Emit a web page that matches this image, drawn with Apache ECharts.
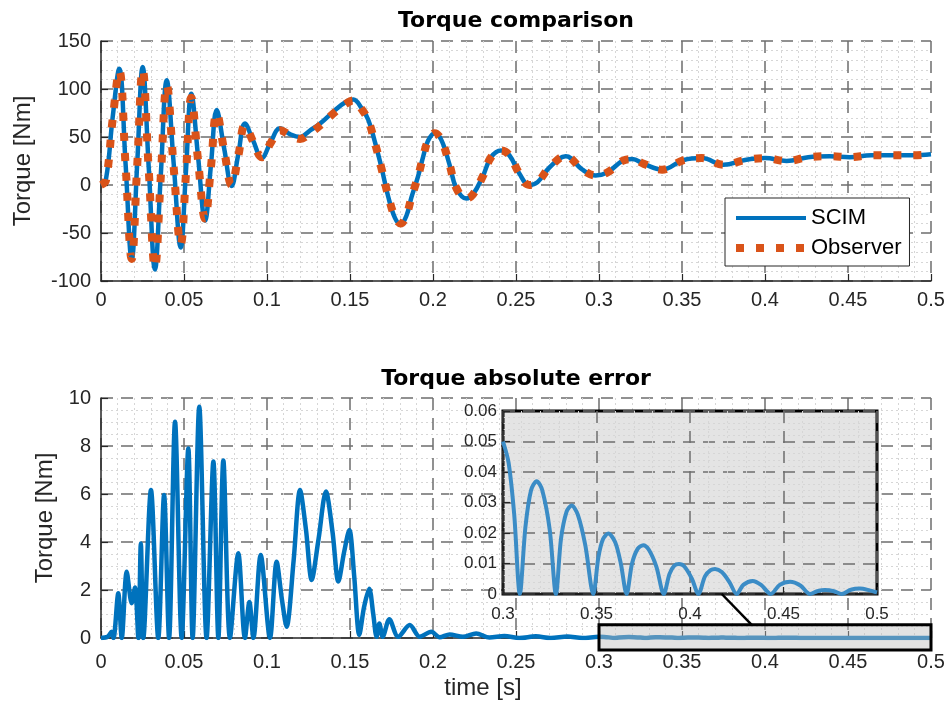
<!DOCTYPE html>
<html><head><meta charset="utf-8">
<script src="https://cdn.jsdelivr.net/npm/echarts@6/dist/echarts.min.js"></script>
<style>html,body{margin:0;padding:0;background:#fff}#c{width:949px;height:715px}</style>
</head><body><div id="c"></div>
<script>
// ---------- data ----------
const titleTop = 'Torque comparison';
const titleBottom = 'Torque absolute error';
const yLabel = 'Torque [Nm]';
const xLabel = 'time [s]';
const legendNames = ['SCIM', 'Observer'];

// SCIM torque [time s, torque Nm]
const scimTorque = [
  [0,0],[0.003,6],[0.007,70],[0.011,121],[0.0148,22],[0.0185,-78],[0.0218,22],[0.0251,123],
  [0.0288,17],[0.0325,-88],[0.036,10],[0.0396,109],[0.0438,22],[0.048,-65],[0.0512,15],[0.0544,95],
  [0.0585,29],[0.0627,-37],[0.0662,20],[0.0697,78],[0.0742,38],[0.0787,-1],[0.0827,32],[0.0867,64],
  [0.0917,46],[0.0968,28],[0.1023,45],[0.1078,59],[0.1138,53],[0.1199,50],[0.126,57],[0.132,64],
  [0.141,78],[0.147,86],[0.152,89],[0.157,80],[0.161,68],[0.165,45],[0.169,18],[0.173,-12],
  [0.177,-34],[0.1805,-41],[0.184,-32],[0.187,-13],[0.191,9],[0.194,29],[0.197,46],[0.201,54],
  [0.205,47],[0.21,21],[0.214,-3],[0.22,-14],[0.224,-10],[0.23,9],[0.235,29],[0.241,36],
  [0.246,31],[0.252,12],[0.258,0],[0.263,3],[0.27,18],[0.28,30],[0.29,16],[0.298,10],
  [0.305,13],[0.314,25],[0.32,27],[0.327,22],[0.338,16],[0.351,26],[0.362,28],[0.375,21],
  [0.388,26],[0.4,28],[0.413,25],[0.426,29],[0.439,30],[0.451,29],[0.464,31],[0.477,31],
  [0.489,31],[0.5,32]
];

// Observer torque [time s, torque Nm]
const observerTorque = [
  [0,0],[0.003,5],[0.007,68],[0.011,119],[0.0148,21],[0.0185,-77],[0.0218,20],[0.0251,120],
  [0.0288,14],[0.0325,-86],[0.036,8],[0.0396,104],[0.0438,18],[0.048,-62],[0.0512,12],[0.0544,91],
  [0.0585,25],[0.0627,-35],[0.0662,18],[0.0697,75],[0.0742,36],[0.0787,0],[0.0827,30],[0.0867,62],
  [0.0917,45],[0.0968,29],[0.1023,44],[0.1078,57],[0.1138,52],[0.1199,48],[0.126,54],[0.132,62],
  [0.141,76],[0.147,84],[0.152,88],[0.157,79],[0.161,67],[0.165,44],[0.169,17],[0.173,-11],
  [0.177,-33],[0.1805,-40],[0.184,-31],[0.187,-13],[0.191,9],[0.194,29],[0.197,46],[0.201,54],
  [0.205,47],[0.21,21],[0.214,-3],[0.22,-14],[0.224,-10],[0.23,9],[0.235,29],[0.241,36],
  [0.246,31],[0.252,12],[0.258,0],[0.263,3],[0.27,18],[0.28,30],[0.29,16],[0.298,10],
  [0.305,13],[0.314,25],[0.32,27],[0.327,22],[0.338,16],[0.351,26],[0.362,28],[0.375,21],
  [0.388,26],[0.4,28],[0.413,25],[0.426,29],[0.439,30],[0.451,29],[0.464,31],[0.477,31],
  [0.489,31],[0.5,32]
];

// absolute error, 0 .. 0.3 s [time s, error Nm]
const errorEarly = [
  [0,0],[0.004,0.05],[0.0064,0.26],[0.0075,0],[0.0104,1.86],[0.0125,0],[0.0155,2.76],[0.0185,1.45],
  [0.0205,2.1],[0.0225,0],[0.024,3.94],[0.0255,0],[0.0301,6.17],[0.0345,0],[0.038,5.96],[0.041,0],
  [0.0446,9.01],[0.0486,0],[0.0526,7.9],[0.0552,0],[0.0592,9.64],[0.0636,0],[0.0677,7.35],[0.0707,0],
  [0.0737,7.4],[0.0777,0],[0.0827,3.53],[0.0867,0],[0.0894,1.5],[0.0918,0],[0.0962,3.46],[0.1018,0],
  [0.1058,3.18],[0.109,1.6],[0.1118,0.47],[0.116,3.2],[0.1199,6.17],[0.1235,4.5],[0.1269,2.42],
  [0.131,4.1],[0.1355,6.1],[0.1395,4.4],[0.143,2.35],[0.1465,3.6],[0.1496,4.5],[0.1525,2.6],
  [0.1556,0.13],[0.1585,1.3],[0.1616,2.05],[0.164,1.0],[0.166,0.05],[0.1677,0.6],[0.1697,0.05],
  [0.1737,0.78],[0.179,0.05],[0.186,0.54],[0.192,0.05],[0.199,0.26],[0.204,0.03],[0.21,0.15],
  [0.218,0.05],[0.226,0.19],[0.234,0.02],[0.243,0.08],[0.252,0],[0.262,0.07],[0.271,0],[0.281,0.06],
  [0.29,0]
];

// absolute error, 0.3 .. 0.5 s (also shown in the inset)
const errorLate = [
  [0.3,0.05],[0.303,0.043],[0.306,0.026],[0.309,0],[0.312,0.022],[0.315,0.034],[0.318,0.037],
  [0.321,0.034],[0.325,0.021],[0.3283,0],[0.331,0.018],[0.334,0.027],[0.3367,0.029],[0.34,0.026],
  [0.344,0.016],[0.3483,0],[0.351,0.012],[0.3535,0.018],[0.3563,0.0198],[0.36,0.017],[0.363,0.01],
  [0.3661,0],[0.369,0.01],[0.372,0.0148],[0.375,0.016],[0.378,0.0145],[0.382,0.009],[0.386,0],
  [0.389,0.0065],[0.3915,0.0092],[0.3941,0.0098],[0.397,0.009],[0.401,0.005],[0.4045,0],
  [0.408,0.0058],[0.411,0.0078],[0.4134,0.0082],[0.417,0.0072],[0.421,0.004],[0.425,0],
  [0.4285,0.003],[0.4335,0.0043],[0.438,0.003],[0.4432,0],[0.448,0.003],[0.4535,0.004],
  [0.459,0.0028],[0.4642,0],[0.468,0.0009],[0.4722,0.0013],[0.477,0.0009],[0.4811,0],
  [0.486,0.0014],[0.4909,0.0018],[0.496,0.0012],[0.5,0.0005]
];

// axis ranges
const xRange = [0, 0.5, 0.05];
const yTopRange = [-100, 150, 50];
const yBottomRange = [0, 10, 2];
const xInsetRange = [0.3, 0.5, 0.05];
const yInsetRange = [0, 0.06, 0.01];
// zoom rectangle on the error plot (data space) and connector ends
const zoomBoxT = [0.3, 0.5];
const zoomBoxV = [-0.5, 0.55];
const connectorInsetT = 0.417;
const connectorBoxT = 0.392;

// ---------- chart ----------
const FONT = 'Liberation Sans, Arial, sans-serif';
const TXT = '#262626';
const C_BLUE = '#0072BD', C_ORANGE = '#D95319';

function mkAxis(range, opts) {
  return Object.assign({
    type: 'value', min: range[0], max: range[1], interval: range[2],
    axisLine: { show: true, onZero: false, lineStyle: { color: TXT, width: 1.5 } },
    axisTick: { show: true, inside: true, length: 7, lineStyle: { color: TXT, width: 1.2 } },
    axisLabel: { fontSize: 20, color: TXT, fontFamily: FONT, margin: 9 },
    splitLine: { show: true, lineStyle: { color: '#6e6e6e', width: 1.5, type: [12, 8] } },
    minorTick: { show: false, splitNumber: 5 },
    minorSplitLine: { show: true, lineStyle: { color: '#d6d6d6', width: 1, type: [2, 3] } }
  }, opts || {});
}

const chart = echarts.init(document.getElementById('c'));
const option = {
  animation: false,
  backgroundColor: '#fff',
  grid: [
    { left: 101, top: 41, width: 830, height: 240 },
    { left: 101, top: 398, width: 830, height: 240 },
    { left: 503, top: 411, width: 374, height: 183, show: true, z: 10,
      backgroundColor: '#e4e4e4', borderColor: '#000', borderWidth: 3 }
  ],
  xAxis: [
    mkAxis(xRange, { gridIndex: 0 }),
    mkAxis(xRange, { gridIndex: 1, axisLabel: { fontSize: 20, color: TXT, fontFamily: FONT, margin: 14 },
      name: xLabel, nameLocation: 'middle', nameGap: 38,
      nameTextStyle: { fontSize: 24, color: TXT, fontFamily: FONT, padding: [0, 66, 0, 0] } }),
    mkAxis(xInsetRange, { gridIndex: 2, z: 11,
      axisLabel: { fontSize: 17, color: TXT, fontFamily: FONT, margin: 12 } })
  ],
  yAxis: [
    mkAxis(yTopRange, { gridIndex: 0, axisLabel: { fontSize: 20, color: TXT, fontFamily: FONT, margin: 10 },
      name: yLabel, nameLocation: 'middle', nameGap: 66,
      nameTextStyle: { fontSize: 24, color: TXT, fontFamily: FONT } }),
    mkAxis(yBottomRange, { gridIndex: 1, minorTick: { show: false, splitNumber: 4 },
      axisLabel: { fontSize: 20, color: TXT, fontFamily: FONT, margin: 10 },
      name: yLabel, nameLocation: 'middle', nameGap: 44,
      nameTextStyle: { fontSize: 24, color: TXT, fontFamily: FONT } }),
    mkAxis(yInsetRange, { gridIndex: 2, z: 11,
      axisLabel: { fontSize: 17, color: TXT, fontFamily: FONT, margin: 6 } })
  ],
  legend: {
    left: 725, top: 198, orient: 'vertical',
    backgroundColor: '#fff', borderColor: '#262626', borderWidth: 1, borderRadius: 0,
    padding: [9, 8, 7, 7], itemGap: 8, itemWidth: 70, itemHeight: 10,
    textStyle: { fontSize: 22, color: '#000', fontFamily: FONT },
    itemStyle: { opacity: 0 },
    data: [
      { name: legendNames[0], lineStyle: { width: 4 } },
      { name: legendNames[1], lineStyle: { width: 8 } }
    ]
  },
  series: [
    { name: legendNames[0], type: 'line', xAxisIndex: 0, yAxisIndex: 0, data: scimTorque,
      symbol: 'none', smooth: 0.4, lineStyle: { color: C_BLUE, width: 4.5 }, itemStyle: { color: C_BLUE } },
    { name: legendNames[1], type: 'line', xAxisIndex: 0, yAxisIndex: 0, data: observerTorque,
      symbol: 'none', smooth: 0.4, lineStyle: { color: C_ORANGE, width: 8, type: [8, 12] },
      itemStyle: { color: C_ORANGE } },
    { name: 'error', type: 'line', xAxisIndex: 1, yAxisIndex: 1, data: errorEarly.concat(errorLate),
      symbol: 'none', smooth: 0.3, lineStyle: { color: C_BLUE, width: 4.5 } },
    { name: 'error zoom', type: 'line', xAxisIndex: 2, yAxisIndex: 2, data: errorLate, z: 12,
      symbol: 'none', smooth: 0.3, lineStyle: { color: '#3b8cc6', width: 4 } }
  ]
};
chart.setOption(option);

const b0 = chart.convertToPixel({ gridIndex: 1 }, [zoomBoxT[0], zoomBoxV[1]]);
const b1 = chart.convertToPixel({ gridIndex: 1 }, [zoomBoxT[1], zoomBoxV[0]]);
const c0 = chart.convertToPixel({ gridIndex: 2 }, [connectorInsetT, 0]);
const c1 = chart.convertToPixel({ gridIndex: 1 }, [connectorBoxT, zoomBoxV[1]]);
const g0 = chart.convertToPixel({ gridIndex: 0 }, [(xRange[0] + xRange[1]) / 2, yTopRange[1]]);
const g1 = chart.convertToPixel({ gridIndex: 1 }, [(xRange[0] + xRange[1]) / 2, yBottomRange[1]]);

chart.setOption({
  graphic: [
    { type: 'text', x: g0[0], y: g0[1] - 20, z: 30,
      style: { text: titleTop, align: 'center', verticalAlign: 'middle', fill: '#000',
               font: 'bold 22px "DejaVu Sans", sans-serif' } },
    { type: 'text', x: g1[0], y: g1[1] - 19, z: 30,
      style: { text: titleBottom, align: 'center', verticalAlign: 'middle', fill: '#000',
               font: 'bold 22px "DejaVu Sans", sans-serif' } },
    { type: 'rect', z: 30,
      shape: { x: b0[0], y: b0[1], width: b1[0] - b0[0], height: b1[1] - b0[1] },
      style: { fill: 'rgba(190,190,190,0.45)', stroke: '#000', lineWidth: 3 } },
    { type: 'line', z: 30,
      shape: { x1: c0[0], y1: c0[1], x2: c1[0], y2: c1[1] },
      style: { stroke: '#000', lineWidth: 2.5 } }
  ]
});
</script>
</body></html>
